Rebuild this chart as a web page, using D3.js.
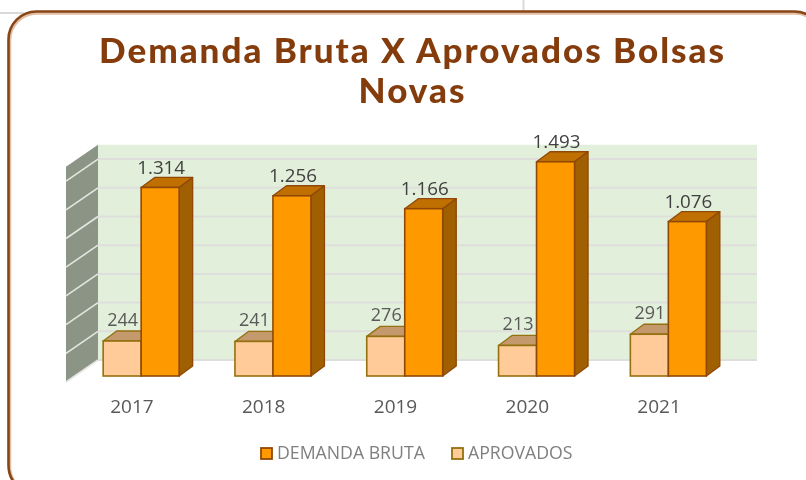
<!DOCTYPE html>
<html><head><meta charset="utf-8">
<script src="https://cdn.jsdelivr.net/npm/d3@7"></script>
<style>html,body{margin:0;padding:0;background:#fff;overflow:hidden}svg{display:block;filter:blur(0.45px)}</style>
</head><body><svg id="c" width="806" height="480"></svg>
<script>
const years = ["2017","2018","2019","2020","2021"];
const demanda = [1314,1256,1166,1493,1076];
const aprovados = [244,241,276,213,291];
const gridTicks = [0,200,400,600,800,1000,1200,1400];
const titleLines = ["Demanda Bruta X Aprovados Bolsas","Novas"];
const legendItems = ["DEMANDA BRUTA","APROVADOS"];

const svg = d3.select("#c");
const fmt = d3.formatLocale({decimal:",",thousands:".",grouping:[3],currency:["",""]}).format(",");

// frame
svg.append("path").attr("d","M0 13H24M523.5 0V11").attr("stroke","#d9d9d9").attr("stroke-width",2).attr("fill","none");
svg.append("rect").attr("x",10).attr("y",13.5).attr("width",812).attr("height",480).attr("rx",27)
  .attr("fill","#fff").attr("stroke","#e0bfa6").attr("stroke-width",2.5);
svg.append("rect").attr("x",8.5).attr("y",11.5).attr("width",814).attr("height",482).attr("rx",28)
  .attr("fill","none").attr("stroke","#8a4515").attr("stroke-width",2.6);

// title
svg.append("g").selectAll("text").data(titleLines).join("text")
  .attr("x",412.5).attr("y",(d,i)=>63+i*40).attr("text-anchor","middle")
  .attr("font-family","Lato").attr("font-weight",900).attr("font-size",35).attr("letter-spacing",2)
  .attr("fill","#843c0c").text(d=>d);

// 3D geometry
const wallDx=32, wallDy=22, barDx=13.5, barDy=10;
const x = d3.scaleBand().domain(years).range([66,725]).paddingInner(0.4234).paddingOuter(0.2117);
const series = d3.scaleBand().domain([0,1]).range([0,x.bandwidth()]);
const yWall = d3.scaleLinear().domain([0,1500]).range([360,144.75]);
const y = v => yWall(v)+16;
const barShift = 9.25;

// walls
const L=x.range()[0], R=x.range()[1];
svg.append("rect").attr("x",L+wallDx).attr("y",yWall(1500)).attr("width",R-L).attr("height",yWall(0)-yWall(1500)).attr("fill","#e2efda");
svg.append("polygon").attr("fill","#8c9585")
  .attr("points",[[L,yWall(0)+wallDy],[L+wallDx,yWall(0)],[L+wallDx,yWall(1500)],[L,yWall(1500)+wallDy]].join(" "));
const grid = svg.append("g");
grid.selectAll("line.b").data(gridTicks).join("line").attr("class","b")
  .attr("x1",L+wallDx).attr("x2",R+wallDx).attr("y1",yWall).attr("y2",yWall)
  .attr("stroke","#dedfdc").attr("stroke-width",2);
grid.selectAll("line.s").data(gridTicks).join("line").attr("class","s")
  .attr("x1",L).attr("x2",L+wallDx).attr("y1",d=>yWall(d)+wallDy).attr("y2",yWall)
  .attr("stroke","#e4e6e1").attr("stroke-width",1.6);

// bars
function bars(vals, idx, c){
  const g = svg.append("g").selectAll("g").data(years.map((yr,i)=>({yr,v:vals[i]}))).join("g");
  const x0 = d=>x(d.yr)+series(idx)+barShift, w=series.bandwidth(), base=y(0);
  g.append("polygon").attr("fill",c.top).attr("stroke",c.stroke).attr("stroke-width",1.3).attr("stroke-linejoin","round")
    .attr("points",d=>[[x0(d),y(d.v)],[x0(d)+barDx,y(d.v)-barDy],[x0(d)+w+barDx,y(d.v)-barDy],[x0(d)+w,y(d.v)]].join(" "));
  g.append("polygon").attr("fill",c.side).attr("stroke",c.stroke).attr("stroke-width",1.3).attr("stroke-linejoin","round")
    .attr("points",d=>[[x0(d)+w,y(d.v)],[x0(d)+w+barDx,y(d.v)-barDy],[x0(d)+w+barDx,base-barDy],[x0(d)+w,base]].join(" "));
  g.append("rect").attr("x",x0).attr("y",d=>y(d.v)).attr("width",w).attr("height",d=>base-y(d.v))
    .attr("fill",c.front).attr("stroke",c.stroke).attr("stroke-width",1.6);
  return {g,x0,w};
}
const cLight={front:"#ffcc99",top:"#c49a6c",side:"#c49a6c",stroke:"#94700f"};
const cDark={front:"#ff9900",top:"#c07000",side:"#a05f00",stroke:"#8f4808"};
const lb = bars(aprovados,0,cLight);
const db = bars(demanda,1,cDark);
function labels(b,gap,color,dx,size){
  b.g.append("text").attr("x",d=>b.x0(d)+b.w/2+dx).attr("y",d=>y(d.v)-gap).attr("text-anchor","middle")
    .attr("font-family","Open Sans").attr("font-size",size).attr("fill",color).text(d=>fmt(d.v));
}
labels(lb,15,"#595959",0.5,18);
labels(db,13.5,"#404040",1,18.8);

// category axis
const ax = svg.append("g").attr("transform","translate(0,413)").call(d3.axisBottom(x).tickSize(0).tickPadding(0));
ax.select(".domain").remove();
ax.selectAll("text").attr("dy",0).attr("y",0).attr("font-family","Open Sans").attr("font-size",19).attr("fill","#595959");

// legend
const legendX=[260,451], legendFill=[cDark,cLight];
const lg = svg.append("g").selectAll("g").data(legendItems).join("g");
lg.append("rect").attr("x",(d,i)=>legendX[i]+1).attr("y",448).attr("width",11).attr("height",11)
  .attr("fill",(d,i)=>legendFill[i].front).attr("stroke",(d,i)=>legendFill[i].stroke).attr("stroke-width",1.8);
lg.append("text").attr("x",(d,i)=>legendX[i]+17).attr("y",459)
  .attr("font-family","Open Sans").attr("font-size",17.7).attr("fill","#7f7f7f").text(d=>d);
</script></body></html>
